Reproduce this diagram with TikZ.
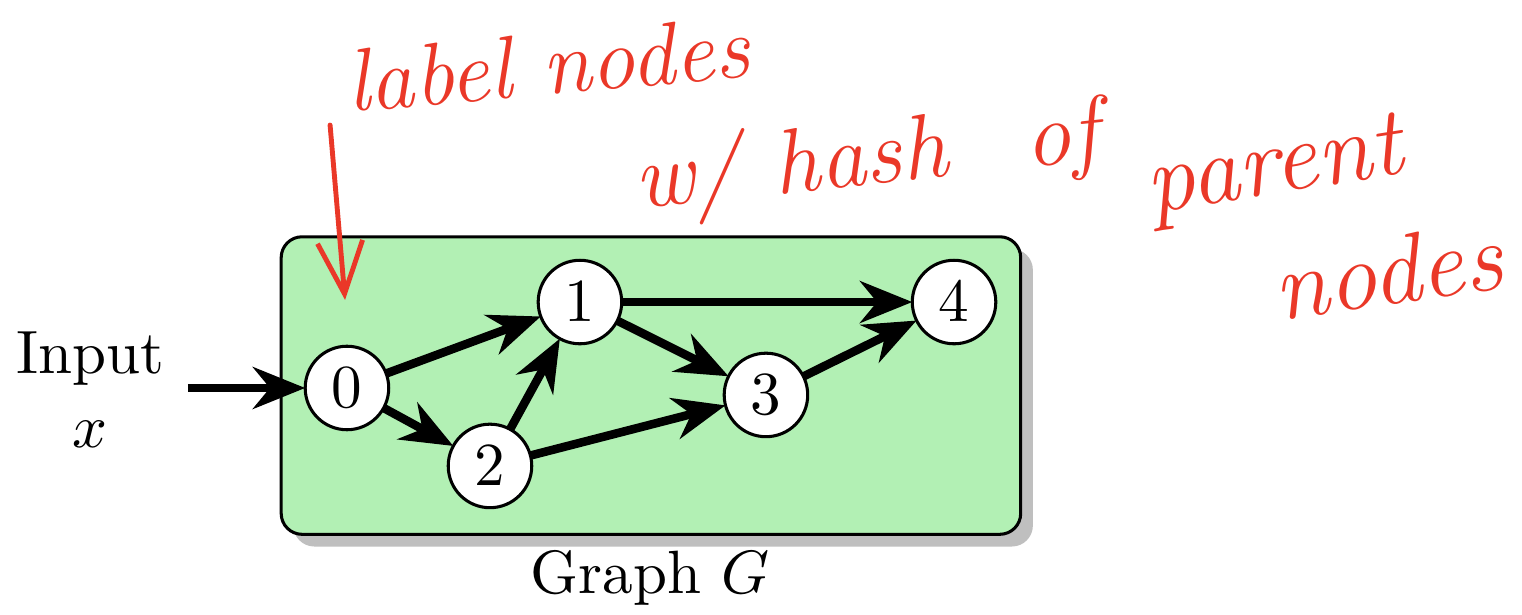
\documentclass[tikz,border=0pt]{standalone}
\usepackage{tikz}
\usepackage{tkz-graph}
\usetikzlibrary{arrows.meta,shadows}

\definecolor{boxgreen}{RGB}{178,240,180}
\definecolor{inkred}{RGB}{234,56,40}

\tikzset{
  VertexStyle/.style={shape=circle, draw, line width=0.5pt, fill=white,
    minimum size=4.8mm, inner sep=0pt},
  EdgeStyle/.style={draw, line width=1.4pt, -{Stealth[length=3mm,width=2.4mm]}},
  graphbox/.style={draw, line width=0.5pt, fill=boxgreen, rounded corners=1.2mm,
    minimum width=4.25cm, minimum height=1.71cm,
    drop shadow={shadow xshift=0.7mm, shadow yshift=-0.7mm, fill=black!25, opacity=1}},
  note/.style={text=inkred, font=\fontsize{15}{18}\selectfont\itshape, inner sep=0pt},
}

\begin{document}
\begin{tikzpicture}
        \useasboundingbox (0,0) rectangle (8.747,3.529);

        \node[graphbox] (box) at (3.741,1.313) {};
        \node (caption) at (3.736,0.21) {Graph $G$};
        \node[align=center] (input) at (0.517,1.29) {Input\\$x$};

        \Vertex[ x=1.994, y=1.299, L=$0$]{n0}
        \Vertex[ x=3.333, y=1.793, L=$1$]{n1}
        \Vertex[ x=2.816, y=0.851, L=$2$]{n2}
        \Vertex[ x=4.402, y=1.259, L=$3$]{n3}
        \Vertex[ x=5.483, y=1.793, L=$4$]{n4}

        \coordinate (feed) at (1.080,1.299);
        \draw[EdgeStyle] (feed) -- (n0);

        \Edge(n0)(n1)
        \Edge(n0)(n2)
        \Edge(n2)(n1)
        \Edge(n1)(n3)
        \Edge(n1)(n4)
        \Edge(n2)(n3)
        \Edge(n3)(n4)

        % hand-written remark
        \node[note, rotate=5, font=\fontsize{14.5}{17}\selectfont\itshape] (remarkA) at (3.15,3.16) {label nodes};
        \node[note, rotate=6] (remarkB) at (4.98,2.60) {w/\hspace{0.2cm}hash\hspace{0.45cm}of};
        \node[note, rotate=9, font=\fontsize{16}{18}\selectfont\itshape] (remarkC) at (7.328,2.54) {parent};
        \node[note, rotate=8, font=\fontsize{16}{18}\selectfont\itshape] (remarkD) at (7.975,1.97) {nodes};
        \coordinate (tailA) at (1.897,2.810);
        \coordinate (headA) at (1.983,1.805);
        \draw[inkred, line width=0.8pt, line cap=round,
          -{Straight Barb[length=3mm,width=2.6mm]}] (tailA) -- (headA);
    \end{tikzpicture}
\end{document}
